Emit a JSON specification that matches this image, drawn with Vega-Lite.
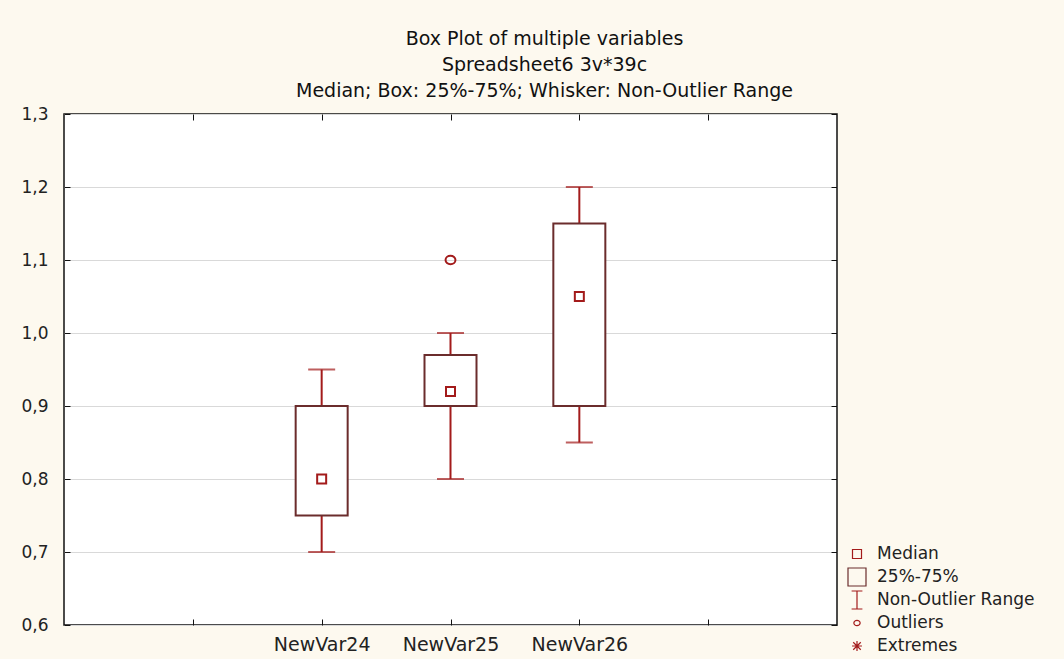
{
  "$schema": "https://vega.github.io/schema/vega-lite/v6.json",
  "width": 773,
  "height": 511,
  "autosize": {"type": "none"},
  "padding": {"left": 64, "top": 114, "right": 227, "bottom": 34},
  "background": "#FDF9EF",
  "view": {"fill": "white", "stroke": "#111111", "strokeWidth": 1.5},
  "title": {
    "text": ["Box Plot of multiple variables", "Spreadsheet6 3v*39c", "Median; Box: 25%-75%; Whisker: Non-Outlier Range"],
    "font": "DejaVu Sans",
    "fontSize": 19,
    "fontWeight": "normal",
    "lineHeight": 26,
    "color": "#111111",
    "anchor": "middle",
    "dx": 94,
    "offset": 4
  },
  "datasets": {
    "stats": [
      {"var": "NewVar24", "lo": 0.70, "q1": 0.75, "med": 0.80, "q3": 0.90, "hi": 0.95},
      {"var": "NewVar25", "lo": 0.80, "q1": 0.90, "med": 0.92, "q3": 0.97, "hi": 1.00},
      {"var": "NewVar26", "lo": 0.85, "q1": 0.90, "med": 1.05, "q3": 1.15, "hi": 1.20}
    ],
    "outliers": [
      {"var": "NewVar25", "value": 1.10}
    ]
  },
  "layer": [
    {
      "data": {"name": "stats"},
      "mark": {"type": "rule", "color": "#A31B1B", "strokeWidth": 2},
      "encoding": {
        "x": {
          "field": "var", "type": "nominal",
          "scale": {"type": "point", "domain": ["_a", "NewVar24", "NewVar25", "NewVar26", "_b"], "padding": 1},
          "axis": {
            "orient": "bottom", "title": null, "domain": false, "grid": false,
            "tickSize": -6, "tickColor": "#111111", "labelPadding": 16, "labelAngle": 0,
            "labelFont": "DejaVu Sans", "labelFontSize": 19, "labelColor": "#222222",
            "labelExpr": "indexof(datum.value, '_') == 0 ? '' : datum.value"
          }
        },
        "y": {
          "field": "lo", "type": "quantitative",
          "scale": {"domain": [0.6, 1.3], "nice": false, "zero": false},
          "axis": {
            "orient": "left", "title": null, "domain": false, "grid": true,
            "gridColor": "#D9D9D9", "gridWidth": 1,
            "values": [0.6, 0.7, 0.8, 0.9, 1.0, 1.1, 1.2, 1.3],
            "tickSize": -6, "tickColor": "#111111", "labelPadding": 22,
            "labelFont": "DejaVu Sans", "labelFontSize": 17, "labelColor": "#222222",
            "labelExpr": "replace(format(datum.value, '.1f'), '.', ',')"
          }
        },
        "y2": {"field": "hi"}
      }
    },
    {
      "data": {"name": "stats"},
      "mark": {"type": "bar", "size": 52, "fill": "white", "stroke": "#6B2C2C", "strokeWidth": 2},
      "encoding": {
        "x": {
          "field": "var", "type": "nominal",
          "axis": {"orient": "top", "title": null, "domain": false, "grid": false, "labels": false, "tickSize": -6, "tickColor": "#111111"}
        },
        "y": {
          "field": "q1", "type": "quantitative",
          "axis": {"orient": "right", "title": null, "domain": false, "grid": false, "labels": false,
                   "values": [0.6, 0.7, 0.8, 0.9, 1.0, 1.1, 1.2, 1.3], "tickSize": -6, "tickColor": "#111111"}
        },
        "y2": {"field": "q3"}
      }
    },
    {
      "data": {"name": "stats"},
      "mark": {"type": "tick", "size": 27, "thickness": 2, "color": "#A31B1B"},
      "encoding": {
        "x": {"field": "var", "type": "nominal", "axis": null},
        "y": {"field": "lo", "type": "quantitative", "axis": null}
      }
    },
    {
      "data": {"name": "stats"},
      "mark": {"type": "tick", "size": 27, "thickness": 2, "color": "#A31B1B"},
      "encoding": {
        "x": {"field": "var", "type": "nominal", "axis": null},
        "y": {"field": "hi", "type": "quantitative", "axis": null}
      }
    },
    {
      "data": {"name": "stats"},
      "mark": {"type": "point", "filled": false, "size": 324, "strokeWidth": 2, "opacity": 1},
      "encoding": {
        "x": {"field": "var", "type": "nominal", "axis": null},
        "y": {"field": "med", "type": "quantitative", "axis": null},
        "shape": {
          "datum": "Median",
          "scale": {
            "domain": ["Median", "25%-75%", "Non-Outlier Range", "Outliers", "Extremes"],
            "range": [
              "M-0.5,-0.5H0.5V0.5H-0.5Z",
              "M-1,-1H1V1H-1Z",
              "M-0.6,-1H0.6M0,-1V1M-0.6,1H0.6",
              "M0.35,0A0.35,0.3 0 1,1 -0.35,0A0.35,0.3 0 1,1 0.35,0Z",
              "M-0.55,0H0.55M0,-0.55V0.55M-0.42,-0.42L0.42,0.42M-0.42,0.42L0.42,-0.42"
            ]
          },
          "legend": {
            "title": null, "orient": "none", "legendX": 783, "legendY": 430, "padding": 0,
            "symbolSize": 324, "symbolStrokeWidth": 1.2, "symbolFillColor": "transparent",
            "labelFont": "DejaVu Sans", "labelFontSize": 17, "labelColor": "#222222",
            "labelOffset": 10, "rowPadding": -1, "labelLimit": 300, "gridAlign": "all",
            "encode": {"symbols": {"update": {"stroke": {"scale": "stroke", "field": "value"}}}}
          }
        },
        "stroke": {
          "datum": "Median",
          "scale": {
            "domain": ["Median", "25%-75%", "Non-Outlier Range", "Outliers", "Extremes"],
            "range": ["#A31B1B", "#6B2C2C", "#A31B1B", "#A31B1B", "#A31B1B"]
          },
          "legend": null
        }
      }
    },
    {
      "data": {"name": "outliers"},
      "mark": {"type": "point", "filled": false, "size": 800, "strokeWidth": 2, "opacity": 1},
      "encoding": {
        "x": {"field": "var", "type": "nominal", "axis": null},
        "y": {"field": "value", "type": "quantitative", "axis": null},
        "shape": {"datum": "Outliers", "legend": null},
        "stroke": {"datum": "Outliers", "legend": null}
      }
    }
  ],
  "resolve": {"axis": {"x": "independent", "y": "independent"}}
}
